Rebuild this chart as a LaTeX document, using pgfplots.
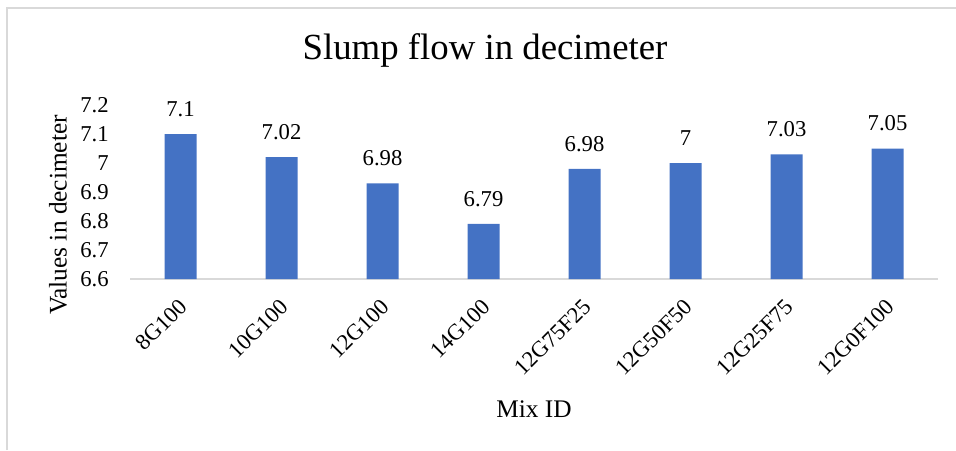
\documentclass[border=0pt]{standalone}
\usepackage{pgfplots}
\pgfplotsset{compat=1.18}
\usepackage{fontspec}
\setmainfont{Liberation Serif}
\definecolor{barblue}{HTML}{4472C4}
\definecolor{gridgray}{HTML}{D9D9D9}
\begin{document}
\begin{tikzpicture}[x=1pt,y=1pt]
\path[use as bounding box] (0,0) rectangle (717,337.5);
\draw[gridgray, line width=1.5pt] (5.6,0) -- (5.6,331.3) -- (717,331.3);
\begin{axis}[
  at={(97.5pt,128.25pt)}, anchor=south west,
  scale only axis, width=606pt, height=130.5pt,
  xmin=-0.5, xmax=7.5, ymin=6.6, ymax=7.2,
  ytick={6.6,6.7,6.8,6.9,7,7.1,7.2},
  xtick={0,...,7},
  xticklabels={8G100,10G100,12G100,14G100,12G75F25,12G50F50,12G25F75,12G0F100},
  /pgf/number format/assume math mode=true,
  axis x line*=bottom, axis y line*=left,
  y axis line style={draw=none},
  x axis line style={gridgray, line width=1pt},
  major tick length=0pt,
  tick label style={font=\fontsize{17}{20}\selectfont},
  yticklabel style={xshift=-12.5pt},
  xticklabel style={rotate=45, anchor=east, xshift=-8pt, yshift=-14pt},
  clip=false,
]
\addplot[ybar, bar width=24pt, fill=barblue, draw=none,
  point meta=explicit,
  nodes near coords,
  every node near coord/.append style={font=\fontsize{17}{20}\selectfont, black, yshift=9.5pt}]
  coordinates {
  (0,7.10) [7.1]
  (1,7.02) [7.02]
  (2,6.93) [6.98]
  (3,6.79) [6.79]
  (4,6.98) [6.98]
  (5,7.00) [7]
  (6,7.03) [7.03]
  (7,7.05) [7.05]
  };
\end{axis}
\node[font=\fontsize{27.6}{32}\selectfont] at (363.75,300) {Slump flow in decimeter};
\node[font=\fontsize{19}{22}\selectfont] at (400.5,30.75) {Mix ID};
\node[font=\fontsize{19}{22}\selectfont, rotate=90] at (43.5,176.25) {Values in decimeter};
\end{tikzpicture}
\end{document}
